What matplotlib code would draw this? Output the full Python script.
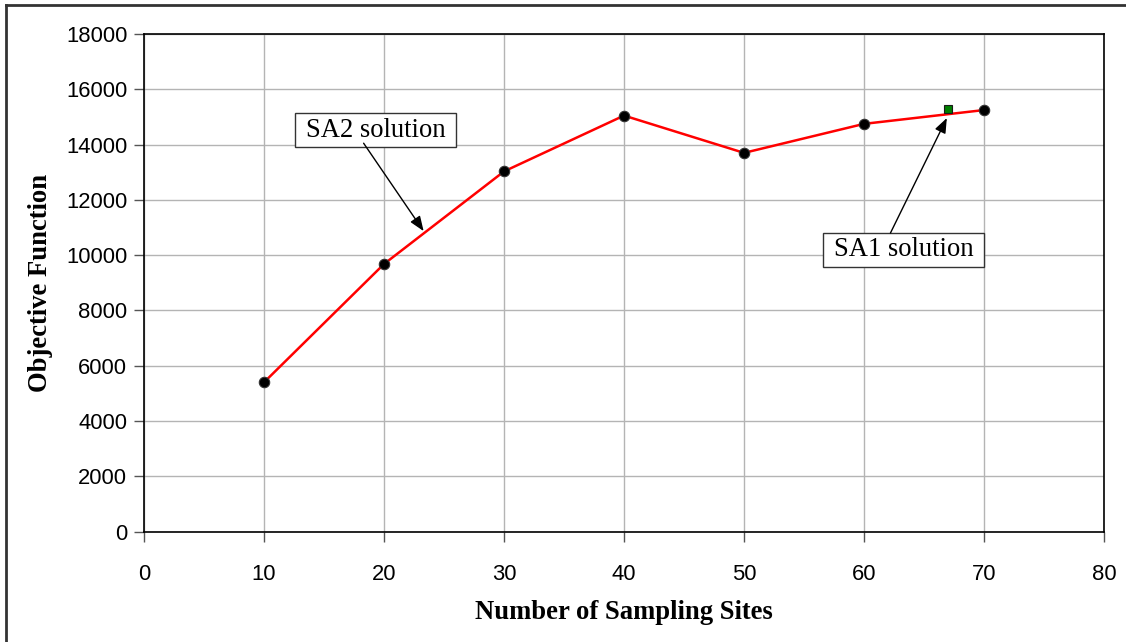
import matplotlib
matplotlib.use("Agg")
import matplotlib.pyplot as plt
from matplotlib.lines import Line2D
from matplotlib.patches import Rectangle

# Data
sites = [10, 20, 30, 40, 50, 60, 70]
sa2_objective = [5400, 9680, 13030, 15050, 13700, 14750, 15250]
sa1_sites = [67]
sa1_objective = [15275]
x_ticks = [0, 10, 20, 30, 40, 50, 60, 70, 80]
y_ticks = [0, 2000, 4000, 6000, 8000, 10000, 12000, 14000, 16000, 18000]

fig = plt.figure(figsize=(11.26, 6.42), dpi=100)
ax = fig.add_axes([0.1279, 0.172, 0.8526, 0.775])

ax.plot(sites, sa2_objective, color="#ff0000", lw=1.8, zorder=3)
ax.plot(sites, sa2_objective, ls="none", marker="o", ms=7.5, mfc="black",
        mec="#333333", mew=0.8, zorder=4)
ax.plot(sa1_sites, sa1_objective, ls="none", marker="s", ms=6,
        mfc="#008000", mec="#1a1a1a", mew=0.8, zorder=5)

ax.set_xlim(0, 80)
ax.set_ylim(0, 18000)
ax.set_xticks(x_ticks)
ax.set_yticks(y_ticks)
ax.grid(True, color="#b4b4b4", lw=1.0, zorder=0)
ax.set_axisbelow(True)
ax.tick_params(axis="both", direction="out", length=7, width=1,
               color="#555555", labelsize=15.8)
ax.tick_params(axis="x", pad=16)
ax.tick_params(axis="y", pad=5)
for lbl in ax.get_xticklabels() + ax.get_yticklabels():
    lbl.set_fontfamily("Liberation Sans")
for sp in ax.spines.values():
    sp.set_color("black")
    sp.set_linewidth(1.2)

ax.set_xlabel("Number of Sampling Sites", fontfamily="Liberation Serif",
              fontweight="bold", fontsize=19.2, labelpad=11)
ax.set_ylabel("Objective Function", fontfamily="Liberation Serif",
              fontweight="bold", fontsize=19.2, labelpad=9)

arrow = dict(arrowstyle="-|>,head_length=0.9,head_width=0.35", color="black",
             lw=1.0, shrinkA=0, shrinkB=0)


def callout(x0, x1, y0, y1, label):
    ax.add_patch(Rectangle((x0, y0), x1 - x0, y1 - y0, fc="white",
                           ec="#333333", lw=1.0, zorder=6))
    ax.text((x0 + x1) / 2, (y0 + y1) / 2, label, ha="center", va="center",
            fontfamily="Liberation Serif", fontsize=19.2, zorder=7)


callout(12.58, 26.0, 13911, 15141, "SA2 solution")
ax.annotate("", xy=(23.3, 10870), xytext=(18.3, 14050),
            arrowprops=arrow, zorder=8)

callout(56.56, 70.0, 9581, 10811, "SA1 solution")
ax.annotate("", xy=(66.9, 14960), xytext=(62.2, 10800),
            arrowprops=arrow, zorder=8)

# Outer frame along the top and left edges of the figure
fig.add_artist(Line2D([0.0053, 1.0], [0.9922, 0.9922], color="#333333",
                      lw=2, transform=fig.transFigure))
fig.add_artist(Line2D([0.0053, 0.0053], [0.0, 0.9922], color="#333333",
                      lw=2, transform=fig.transFigure))

fig.savefig("out.png", dpi=100)
